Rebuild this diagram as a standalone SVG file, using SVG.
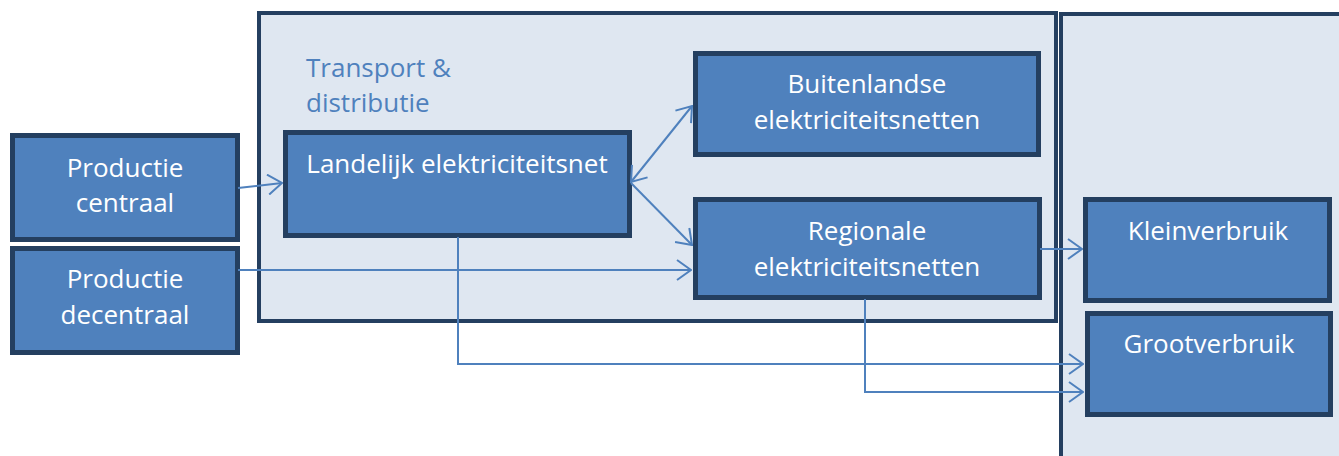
<svg xmlns="http://www.w3.org/2000/svg" width="1339" height="456" viewBox="0 0 1339 456">
  <defs>
    <style>
      .container { fill: #DFE7F1; stroke: #243F60; stroke-width: 4; }
      .box { fill: #4F81BD; stroke: #243F60; stroke-width: 5; }
      .label { font-family: "Open Sans", "Noto Sans", sans-serif; font-size: 26px; fill: #FFFFFF; text-anchor: middle; }
      .title { font-family: "Open Sans", "Noto Sans", sans-serif; font-size: 26px; fill: #4F81BD; }
      .link { fill: none; stroke: #4F81BD; stroke-width: 2; }
    </style>
    <marker id="arrow" viewBox="0 0 16 22" refX="15" refY="11" markerWidth="16" markerHeight="22" markerUnits="userSpaceOnUse" orient="auto-start-reverse">
      <path d="M1,1 L15,11 L1,21" fill="none" stroke="#4F81BD" stroke-width="2"/>
    </marker>
  </defs>

  <!-- Consumer area (extends beyond the canvas edge) -->
  <g id="verbruik">
    <rect class="container" x="1061" y="14" width="300" height="460"/>
  </g>

  <!-- Transport & distribution area -->
  <g id="transport-distributie">
    <rect class="container" x="259" y="13" width="797" height="308"/>
    <text class="title" x="306" y="77">Transport &amp;</text>
    <text class="title" x="306" y="112">distributie</text>
  </g>

  <g id="productie-centraal">
    <rect class="box" x="12.5" y="135.5" width="225" height="104"/>
    <text class="label" x="125" y="177">Productie</text>
    <text class="label" x="125" y="212">centraal</text>
  </g>

  <g id="productie-decentraal">
    <rect class="box" x="12.5" y="248.5" width="225" height="104"/>
    <text class="label" x="125" y="288">Productie</text>
    <text class="label" x="125" y="324">decentraal</text>
  </g>

  <g id="landelijk">
    <rect class="box" x="285.5" y="132.5" width="344" height="103"/>
    <text class="label" x="457" y="173">Landelijk elektriciteitsnet</text>
  </g>

  <g id="buitenlandse">
    <rect class="box" x="695.5" y="53.5" width="343" height="101"/>
    <text class="label" x="867" y="93">Buitenlandse</text>
    <text class="label" x="867" y="129">elektriciteitsnetten</text>
  </g>

  <g id="regionale">
    <rect class="box" x="695.5" y="199.5" width="344" height="98"/>
    <text class="label" x="867" y="240">Regionale</text>
    <text class="label" x="867" y="276">elektriciteitsnetten</text>
  </g>

  <g id="kleinverbruik">
    <rect class="box" x="1085.5" y="199.5" width="244" height="101"/>
    <text class="label" x="1208" y="240">Kleinverbruik</text>
  </g>

  <g id="grootverbruik">
    <rect class="box" x="1087.5" y="313.5" width="243" height="101"/>
    <text class="label" x="1209" y="353">Grootverbruik</text>
  </g>

  <!-- Connectors -->
  <g id="connectors">
    <path class="link" d="M238,188 L282,183" marker-end="url(#arrow)"/>
    <path class="link" d="M238,270 L691,270" marker-end="url(#arrow)"/>
    <path class="link" d="M631,182 L692,106" marker-start="url(#arrow)" marker-end="url(#arrow)"/>
    <path class="link" d="M631,183 L692,245" marker-end="url(#arrow)"/>
    <path class="link" d="M1040,249 L1082,249" marker-end="url(#arrow)"/>
    <path class="link" d="M458,237 L458,364 L1083,364" marker-end="url(#arrow)"/>
    <path class="link" d="M865,299 L865,392 L1083,392" marker-end="url(#arrow)"/>
  </g>
</svg>
